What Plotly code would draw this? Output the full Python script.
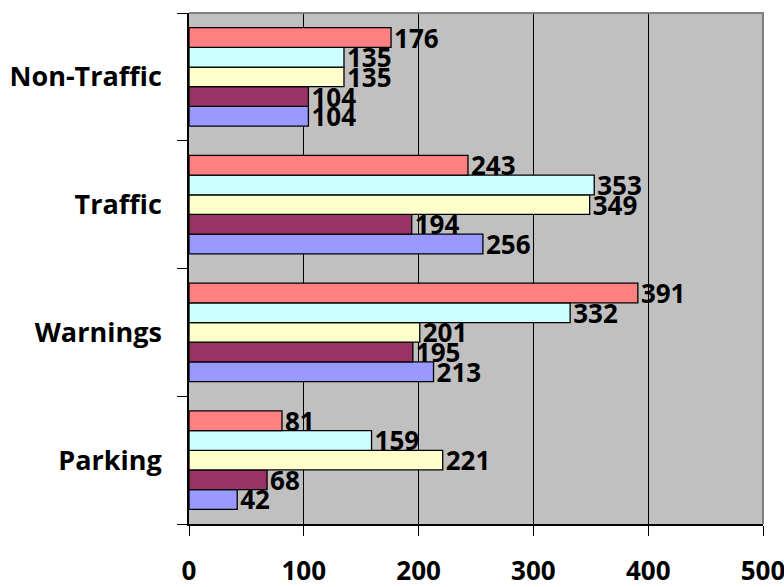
import plotly.graph_objects as go

categories = ["Parking", "Warnings", "Traffic", "Non-Traffic"]

series_names = ["Series 1", "Series 2", "Series 3", "Series 4", "Series 5"]
series_colors = ["#9999FF", "#993366", "#FFFFCC", "#CCFFFF", "#FF8080"]

series_1 = [42, 213, 256, 104]
series_2 = [68, 195, 194, 104]
series_3 = [221, 201, 349, 135]
series_4 = [159, 332, 353, 135]
series_5 = [81, 391, 243, 176]

x_ticks = [0, 100, 200, 300, 400, 500]

FONT = "Open Sans"

fig = go.Figure()
for name, color, vals in zip(series_names, series_colors,
                             [series_1, series_2, series_3, series_4, series_5]):
    fig.add_trace(go.Bar(
        y=categories, x=vals, name=name, orientation="h",
        marker=dict(color=color, line=dict(color="#000000", width=1.3)),
        text=[str(v) for v in vals], textposition="outside",
        textfont=dict(family=FONT, size=26, color="#000000", weight="bold"),
        constraintext="none", cliponaxis=False,
    ))

fig.update_layout(
    width=784, height=587,
    margin=dict(l=189, r=21, t=13, b=63, autoexpand=False),
    paper_bgcolor="#FFFFFF", plot_bgcolor="#C0C0C0",
    barmode="group", bargap=0.23, bargroupgap=0,
    showlegend=False,
    font=dict(family=FONT, color="#000000"),
    xaxis=dict(
        range=[0, 500], tickvals=x_ticks, ticktext=[str(t) for t in x_ticks],
        showgrid=True, gridcolor="#000000", gridwidth=1.3,
        showline=True, linecolor="#000000", linewidth=1.5,
        ticks="outside", ticklen=10, tickcolor="#000000", tickwidth=1.3,
        tickfont=dict(family=FONT, size=26, color="#000000", weight="bold"),
        ticklabelstandoff=13, ticklabeloverflow="allow", automargin=False,
        zeroline=False, fixedrange=True,
    ),
    yaxis=dict(
        categoryorder="array", categoryarray=categories,
        showgrid=False, showline=True, linecolor="#000000", linewidth=1.5,
        ticks="outside", ticklen=10, tickcolor="#000000", tickwidth=1.3,
        tickson="boundaries", automargin=False,
        tickfont=dict(family=FONT, size=27, color="#000000", weight="bold"),
        ticklabelstandoff=20, fixedrange=True,
    ),
    shapes=[dict(
        type="path", xref="paper", yref="paper",
        path="M 0,1 L 1,1 L 1,0",
        line=dict(color="#808080", width=2), layer="above",
    )],
)

fig.write_html("out.html")
